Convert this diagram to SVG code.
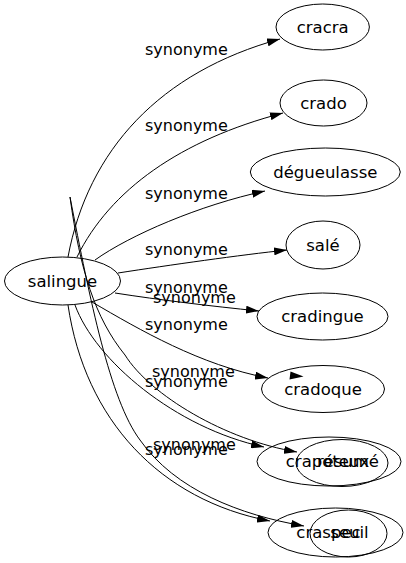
<svg xmlns="http://www.w3.org/2000/svg" width="406" height="563" viewBox="0 0 406 563">
<style>
.node ellipse{fill:none;stroke:#000;stroke-width:1}
.node text{font-family:"DejaVu Sans",sans-serif;font-size:16.5px;fill:#000;text-anchor:middle}
.edge{fill:none;stroke:#000;stroke-width:1;marker-end:url(#arr)}
.lbl{font-family:"DejaVu Sans",sans-serif;font-size:16px;fill:#000;text-anchor:start}
</style>
<defs>
<marker id="arr" markerUnits="userSpaceOnUse" markerWidth="13" markerHeight="8" refX="13" refY="4" orient="auto">
<path d="M0,0 L13,4 L0,8 z" fill="#000"/>
</marker>
</defs>
<rect width="406" height="563" fill="#fff"/>
<g id="connectors">
<path class="edge" d="M68,257 C88,150 160,72 280,39"/>
<path class="edge" d="M77,257 C110,190 180,140 283,113"/>
<path class="edge" d="M95,260 C130,235 200,205 265,191"/>
<path class="edge" d="M118,273 C170,265 240,255 287,250"/>
<path class="edge" d="M115,293 C160,300 210,306 259,311"/>
<path class="edge" d="M92,302 C140,330 200,365 268,378"/>
<polygon points="290.5,371.5 303.5,376.5 289.5,379.5" fill="#000"/>
<path class="edge" d="M75,305 C95,360 175,428 264,447"/>
<path class="edge" d="M70,197 C80,270 95,318 125,355 C150,395 225,440 297,452"/>
<path class="edge" d="M68,305 C85,420 160,500 270,521"/>
<path class="edge" d="M70,197 C90,300 110,400 140,440 C175,490 240,515 304,526"/>
<text class="lbl" x="145" y="55">synonyme</text>
<text class="lbl" x="145" y="131">synonyme</text>
<text class="lbl" x="145" y="199">synonyme</text>
<text class="lbl" x="145" y="255">synonyme</text>
<text class="lbl" x="145" y="293">synonyme</text>
<text class="lbl" x="153" y="303">synonyme</text>
<text class="lbl" x="145" y="330">synonyme</text>
<text class="lbl" x="152" y="376.5">synonyme</text>
<text class="lbl" x="145" y="386.5">synonyme</text>
<text class="lbl" x="153" y="449.5">synonyme</text>
<text class="lbl" x="145" y="454.5">synonyme</text>
</g>
<g id="salingue" class="node"><ellipse cx="62.5" cy="281" rx="58" ry="24"/><text x="62.5" y="286.5">salingue</text></g>
<g id="cracra" class="node"><ellipse cx="322.7" cy="27" rx="46.7" ry="23"/><text x="322.7" y="32.5">cracra</text></g>
<g id="crado" class="node"><ellipse cx="323.5" cy="103" rx="43.5" ry="23"/><text x="323.5" y="108.5">crado</text></g>
<g id="degueulasse" class="node"><ellipse cx="325.3" cy="172" rx="75" ry="24"/><text x="325.3" y="177.5">dégueulasse</text></g>
<g id="sale" class="node"><ellipse cx="323" cy="245" rx="37" ry="24"/><text x="323" y="250.5">salé</text></g>
<g id="cradingue" class="node"><ellipse cx="322.5" cy="316.5" rx="65.5" ry="23.5"/><text x="322.5" y="322">cradingue</text></g>
<g id="cradoque" class="node"><ellipse cx="323" cy="389" rx="61.5" ry="23.5"/><text x="323" y="394.5">cradoque</text></g>
<g id="crapoteux" class="node"><ellipse cx="329" cy="461.5" rx="72" ry="24.5"/><text x="327.5" y="467">crapoteux</text></g>
<g id="resume" class="node"><ellipse cx="342" cy="463" rx="46" ry="23.5"/><text x="348" y="467">résumé</text></g>
<g id="craspec" class="node"><ellipse cx="335.5" cy="532.5" rx="67.5" ry="24.5"/><text x="328.5" y="538">craspec</text></g>
<g id="seuil" class="node"><ellipse cx="348.5" cy="533.5" rx="38.5" ry="23.5"/><text x="349.5" y="538">seuil</text></g>
</svg>
